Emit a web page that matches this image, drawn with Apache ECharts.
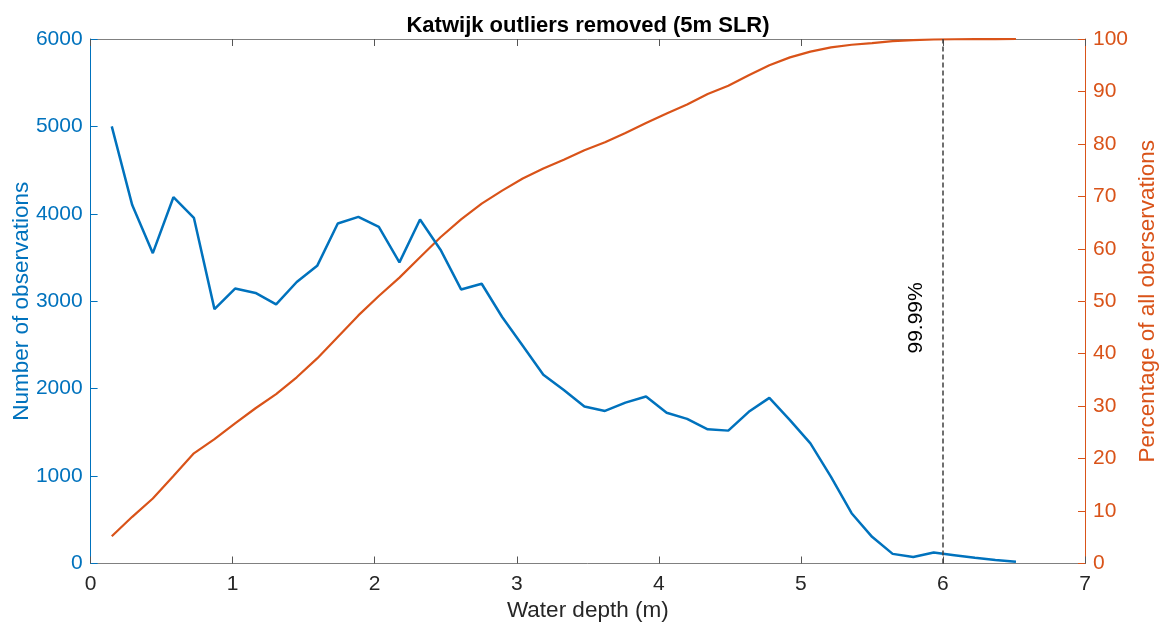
<!DOCTYPE html>
<html>
<head>
<meta charset="utf-8">
<title>Katwijk outliers removed (5m SLR)</title>
<script src="https://cdn.jsdelivr.net/npm/echarts@6/dist/echarts.min.js"></script>
<style>
  html, body { margin: 0; padding: 0; background: #ffffff; }
  #chart { width: 1162px; height: 626px; }
</style>
</head>
<body>
<div id="chart"></div>
<script>
// Bin centres of water depth (m)
const depth = [
  0.149, 0.293, 0.438, 0.583, 0.727, 0.872, 1.017, 1.161, 1.306, 1.451,
  1.595, 1.740, 1.885, 2.029, 2.174, 2.319, 2.463, 2.608, 2.753, 2.897,
  3.042, 3.187, 3.331, 3.476, 3.621, 3.765, 3.910, 4.055, 4.199, 4.344,
  4.489, 4.633, 4.778, 4.923, 5.067, 5.212, 5.357, 5.501, 5.646, 5.791,
  5.935, 6.080, 6.225, 6.369, 6.514
];

// Number of observations per depth bin
const observations = [
  5000, 4100, 3550, 4190, 3955, 2910, 3145, 3095, 2965, 3220,
  3405, 3890, 3965, 3850, 3445, 3935, 3590, 3135, 3200, 2820,
  2490, 2160, 1985, 1795, 1745, 1840, 1910, 1725, 1655, 1535,
  1520, 1735, 1895, 1640, 1375, 990, 575, 305, 110, 75,
  125, 95, 65, 40, 20
];

// Cumulative share of all observations (%)
const cumulativePct = [
  5.2, 8.9, 12.4, 16.7, 21.0, 23.7, 26.7, 29.6, 32.3, 35.5,
  39.1, 43.2, 47.3, 51.0, 54.5, 58.4, 62.2, 65.6, 68.6, 71.1,
  73.4, 75.3, 77.0, 78.8, 80.3, 82.1, 84.0, 85.8, 87.5, 89.5,
  91.1, 93.1, 95.0, 96.5, 97.6, 98.4, 98.9, 99.2, 99.6, 99.8,
  99.9, 99.95, 99.98, 99.99, 100
];

// Depth below which 99.99% of observations fall
const thresholdDepth = 6;
const thresholdLabel = '99.99%';

const BLUE = '#0072BD';
const ORANGE = '#D95319';
const AXIS_GREY = '#808080';
const TEXT_GREY = '#262626';
const FONT = '"Liberation Sans", Arial, Helvetica, sans-serif';

const chart = echarts.init(document.getElementById('chart'), null, { renderer: 'canvas' });

const xCommon = {
  type: 'value',
  min: 0,
  max: 7,
  interval: 1,
  splitLine: { show: false },
  axisLine: { show: true, onZero: false, lineStyle: { color: AXIS_GREY, width: 1 } },
  axisTick: { show: true, inside: true, length: 7, lineStyle: { color: '#555555', width: 1 } }
};

chart.setOption({
  animation: false,
  backgroundColor: '#ffffff',
  textStyle: { fontFamily: FONT },
  title: {
    text: 'Katwijk outliers removed (5m SLR)',
    left: 583,
    textAlign: 'center',
    top: 10,
    textStyle: { fontFamily: FONT, fontSize: 22, fontWeight: 'bold', color: '#000000' }
  },
  grid: {
    left: 90.6, right: 77, top: 39, bottom: 62.5,
    containLabel: false,
    outerBoundsMode: 'none'
  },
  xAxis: [
    Object.assign({}, xCommon, {
      position: 'bottom',
      name: 'Water depth (m)',
      nameLocation: 'middle',
      nameGap: 34,
      nameTextStyle: { fontFamily: FONT, fontSize: 22.5, color: TEXT_GREY },
      axisLabel: { fontFamily: FONT, fontSize: 21, color: TEXT_GREY, margin: 10 }
    }),
    Object.assign({}, xCommon, {
      position: 'top',
      axisLabel: { show: false }
    })
  ],
  yAxis: [
    {
      type: 'value',
      position: 'left',
      min: 0,
      max: 6000,
      interval: 1000,
      name: 'Number of observations',
      nameLocation: 'middle',
      nameGap: 57,
      nameMoveOverlap: false,
      nameTextStyle: { fontFamily: FONT, fontSize: 22.5, color: BLUE },
      splitLine: { show: false },
      axisLine: { show: true, onZero: false, lineStyle: { color: BLUE, width: 1 } },
      axisTick: { show: true, inside: true, length: 7, lineStyle: { color: BLUE, width: 1 } },
      axisLabel: {
        fontFamily: FONT, fontSize: 21, color: BLUE, margin: 8,
        formatter: (v) => String(v)
      }
    },
    {
      type: 'value',
      position: 'right',
      min: 0,
      max: 100,
      interval: 10,
      name: 'Percentage of all oberservations',
      nameLocation: 'middle',
      nameGap: 51,
      nameRotate: 90,
      nameMoveOverlap: false,
      nameTextStyle: { fontFamily: FONT, fontSize: 22.5, color: ORANGE },
      splitLine: { show: false },
      axisLine: { show: true, onZero: false, lineStyle: { color: ORANGE, width: 1 } },
      axisTick: { show: true, inside: true, length: 7, lineStyle: { color: ORANGE, width: 1 } },
      axisLabel: { fontFamily: FONT, fontSize: 21, color: ORANGE, margin: 8 }
    }
  ],
  series: [
    {
      name: 'Percentage of all oberservations',
      type: 'line',
      xAxisIndex: 0,
      yAxisIndex: 1,
      data: depth.map((d, i) => [d, cumulativePct[i]]),
      showSymbol: false,
      lineStyle: { color: ORANGE, width: 2.2 },
      z: 2
    },
    {
      name: 'Number of observations',
      type: 'line',
      xAxisIndex: 0,
      yAxisIndex: 0,
      data: depth.map((d, i) => [d, observations[i]]),
      showSymbol: false,
      lineStyle: { color: BLUE, width: 2.5 },
      z: 3,
      markLine: {
        silent: true,
        symbol: ['none', 'none'],
        lineStyle: { color: '#404040', type: [5, 3], width: 1.5 },
        label: {
          show: true,
          position: 'insideStartTop',
          distance: [210, 16],
          formatter: thresholdLabel,
          fontFamily: FONT,
          fontSize: 21,
          color: '#000000'
        },
        data: [[{ coord: [thresholdDepth, 0] }, { coord: [thresholdDepth, 6000] }]]
      }
    }
  ]
});
</script>
</body>
</html>
